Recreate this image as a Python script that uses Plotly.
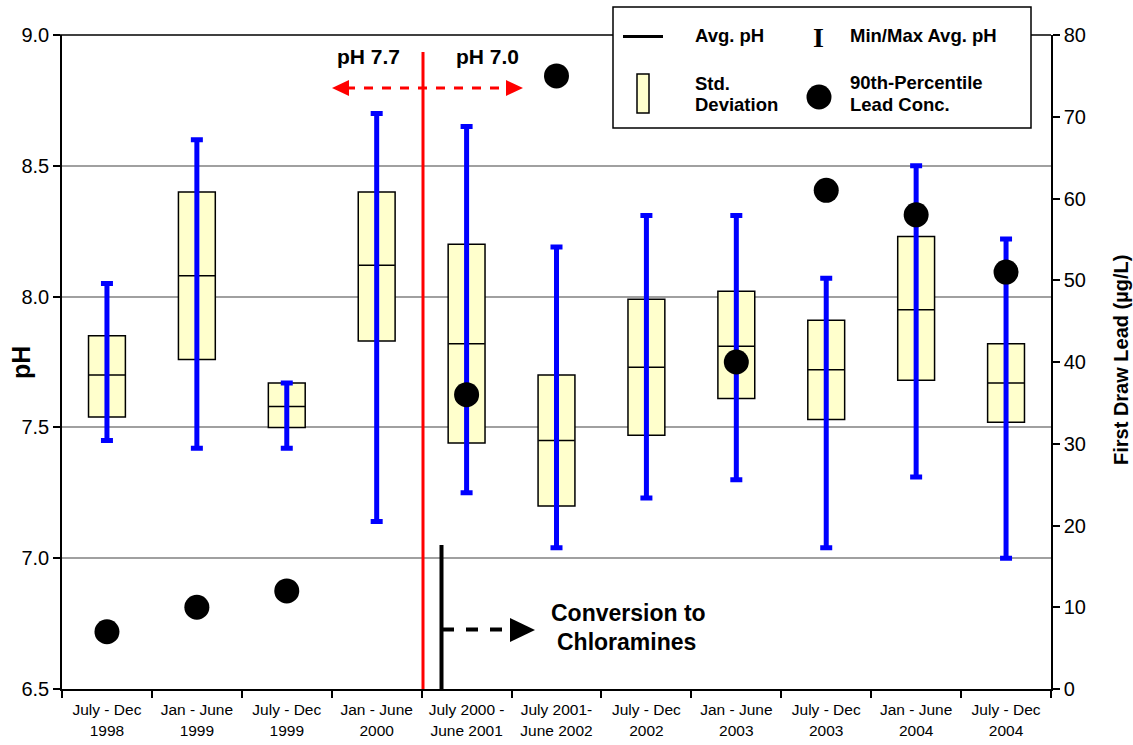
import plotly.graph_objects as go

# Six-month reporting periods
periods = ["July - Dec<br>1998", "Jan - June<br>1999", "July - Dec<br>1999",
           "Jan - June<br>2000", "July 2000 -<br>June 2001", "July 2001-<br>June 2002",
           "July - Dec<br>2002", "Jan - June<br>2003", "July - Dec<br>2003",
           "Jan - June<br>2004", "July - Dec<br>2004"]

# pH statistics per period
avg_ph = [7.70, 8.08, 7.58, 8.12, 7.82, 7.45, 7.73, 7.81, 7.72, 7.95, 7.67]
sd_low = [7.54, 7.76, 7.50, 7.83, 7.44, 7.20, 7.47, 7.61, 7.53, 7.68, 7.52]
sd_high = [7.85, 8.40, 7.67, 8.40, 8.20, 7.70, 7.99, 8.02, 7.91, 8.23, 7.82]
min_ph = [7.45, 7.42, 7.42, 7.14, 7.25, 7.04, 7.23, 7.30, 7.04, 7.31, 7.00]
max_ph = [8.05, 8.60, 7.67, 8.70, 8.65, 8.19, 8.31, 8.31, 8.07, 8.50, 8.22]

# 90th-percentile first draw lead (ug/L); None where not sampled
lead_90 = [7, 10, 12, None, 36, 75, None, 40, 61, 58, 51]

FONT = "Liberation Sans, Arial, sans-serif"
W, H = 1133, 745
L, R, T, B = 62, 1051, 35, 689


def px(xp):
    return (xp - L) / (R - L)


def py(yp):
    return (B - yp) / (B - T)


def label(text, xp, yp, size, xanchor="center", angle=0, family=FONT):
    return dict(text=text, xref="paper", yref="paper", x=px(xp), y=py(yp),
                xanchor=xanchor, yanchor="middle", textangle=angle, showarrow=False,
                font=dict(family=family, size=size, color="black"))


fig = go.Figure()

# Standard deviation boxes
fig.add_trace(go.Bar(
    x=periods, y=[h - l for h, l in zip(sd_high, sd_low)], base=sd_low,
    width=0.41, marker=dict(color="#FFFFCC", line=dict(color="black", width=1.5)),
    showlegend=False, hoverinfo="skip"))

# Average pH ticks across each box
fig.add_trace(go.Scatter(
    x=periods, y=avg_ph, mode="markers",
    marker=dict(symbol="line-ew", size=26, line=dict(color="black", width=1.5)),
    showlegend=False, hoverinfo="skip"))

# Min / max whiskers
fig.add_trace(go.Scatter(
    x=periods, y=avg_ph, mode="markers", marker=dict(size=1, opacity=0),
    error_y=dict(type="data", symmetric=False,
                 array=[mx - a for mx, a in zip(max_ph, avg_ph)],
                 arrayminus=[a - mn for mn, a in zip(min_ph, avg_ph)],
                 color="#0000FF", thickness=5, width=6),
    showlegend=False, hoverinfo="skip"))

# Lead concentration on the secondary axis
fig.add_trace(go.Scatter(
    x=periods, y=lead_90, yaxis="y2", mode="markers",
    marker=dict(size=25, color="black"),
    showlegend=False, hoverinfo="skip"))

shapes = []
annotations = []

# top border of the plot area
shapes.append(dict(type="line", xref="paper", yref="paper", x0=px(55), x1=1,
                   y0=1, y1=1, line=dict(color="black", width=1.5)))

# chlorine -> chloramine changeover
shapes.append(dict(type="line", xref="paper", yref="paper", x0=px(423), x1=px(423),
                   y0=0, y1=py(52), line=dict(color="#FF0000", width=3)))
shapes.append(dict(type="line", xref="paper", yref="paper", x0=px(346), x1=px(508),
                   y0=py(88), y1=py(88), line=dict(color="#FF0000", width=3, dash="dash")))
for tip, back in ((332, 349), (523, 506)):
    shapes.append(dict(type="path", xref="paper", yref="paper",
                       path=f"M {px(tip)} {py(88)} L {px(back)} {py(80)} L {px(back)} {py(96)} Z",
                       fillcolor="#FF0000", line=dict(color="#FF0000", width=0)))
annotations.append(label("<b>pH 7.7</b>", 368, 57, 21))
annotations.append(label("<b>pH 7.0</b>", 487, 56, 21))

# conversion marker
shapes.append(dict(type="line", xref="paper", yref="paper", x0=px(441.5), x1=px(441.5),
                   y0=0, y1=py(545), line=dict(color="black", width=4)))
shapes.append(dict(type="line", xref="paper", yref="paper", x0=px(442), x1=px(505),
                   y0=py(629.5), y1=py(629.5), line=dict(color="black", width=4, dash="dash")))
shapes.append(dict(type="path", xref="paper", yref="paper",
                   path=f"M {px(535)} {py(630)} L {px(510)} {py(618)} L {px(510)} {py(642)} Z",
                   fillcolor="black", line=dict(color="black", width=0)))
annotations.append(label("<b>Conversion to</b>", 628, 613, 23))
annotations.append(label("<b>Chloramines</b>", 626, 642, 23))

# legend panel
shapes.append(dict(type="rect", xref="paper", yref="paper", x0=px(613), x1=px(1031),
                   y0=py(128), y1=py(7), fillcolor="white", line=dict(color="black", width=1.5),
                   layer="above"))
shapes.append(dict(type="line", xref="paper", yref="paper", x0=px(623), x1=px(663),
                   y0=py(36.5), y1=py(36.5), line=dict(color="black", width=3)))
shapes.append(dict(type="rect", xref="paper", yref="paper", x0=px(637), x1=px(649),
                   y0=py(113), y1=py(74), fillcolor="#FFFFCC", line=dict(color="black", width=1.5)))
shapes.append(dict(type="circle", xref="paper", yref="paper", x0=px(806.5), x1=px(831.5),
                   y0=py(109.5), y1=py(84.5), fillcolor="black", line=dict(color="black", width=0)))

for txt, xp, yp in (("<b>Avg. pH</b>", 693, 35), ("<b>Min/Max Avg. pH</b>", 848, 35),
                    ("<b>Std.</b>", 693, 83), ("<b>Deviation</b>", 693, 105),
                    ("<b>90th-Percentile</b>", 848, 82), ("<b>Lead Conc.</b>", 848, 105)):
    annotations.append(label(txt, xp, yp, 18.5, xanchor="left"))
annotations.append(label("<b>I</b>", 818.5, 37, 28,
                         family="Liberation Serif, Times New Roman, serif"))

# axis titles
annotations.append(label("<b>pH</b>", 21, 363, 25, angle=-90))
annotations.append(label("<b>First Draw Lead (µg/L)</b>", 1121, 360, 20, angle=-90))

fig.update_layout(
    width=W, height=H,
    margin=dict(l=L, r=W - R, t=T, b=H - B, pad=0),
    paper_bgcolor="white", plot_bgcolor="white",
    font=dict(family=FONT, color="black"),
    shapes=shapes, annotations=annotations,
    xaxis=dict(type="category", tickson="boundaries", ticks="outside", ticklen=7,
               tickwidth=1.5, tickcolor="black", showline=True, linecolor="black",
               linewidth=1.5, showgrid=False, tickfont=dict(size=15.5, family=FONT),
               ticklabelstandoff=6, range=[-0.5, 10.5], automargin=False),
    yaxis=dict(range=[6.5, 9.0], dtick=0.5, tickformat=".1f", ticks="outside", ticklen=7,
               tickwidth=1.5, tickcolor="black", showline=True, linecolor="black",
               linewidth=1.5, showgrid=True, gridcolor="#A0A0A0", gridwidth=1.5,
               zeroline=False, tickfont=dict(size=20, family=FONT), automargin=False),
    yaxis2=dict(range=[0, 80], dtick=10, overlaying="y", side="right", ticks="outside",
                ticklen=7, tickwidth=1.5, tickcolor="black", showline=True, linecolor="black",
                linewidth=1.5, showgrid=False, zeroline=False,
                tickfont=dict(size=20, family=FONT), automargin=False),
)

fig.write_html("out.html")
